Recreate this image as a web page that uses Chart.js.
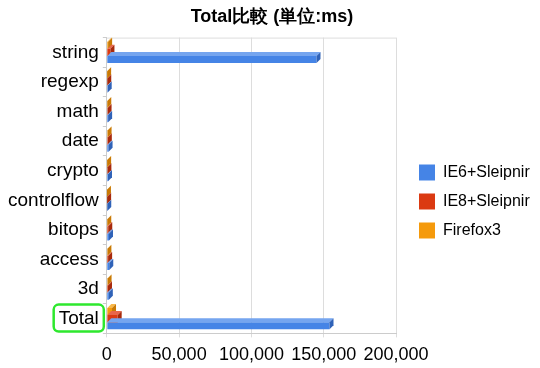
<!DOCTYPE html>
<html>
<head>
<meta charset="utf-8">
<script src="https://cdn.jsdelivr.net/npm/chart.js@4"></script>
<style>
  html, body { margin: 0; padding: 0; background: #fff; }
  #wrap { width: 540px; height: 368px; }
</style>
</head>
<body>
<div id="wrap"><canvas id="chart"></canvas></div>
<script>
const categories = ['string', 'regexp', 'math', 'date', 'crypto', 'controlflow', 'bitops', 'access', '3d', 'Total'];
const ie6Values = [145000, 600, 900, 1200, 800, 300, 1500, 1700, 1400, 154000];
const ie8Values = [2500, 300, 500, 700, 400, 200, 1000, 900, 800, 7500];
const firefoxValues = [900, 200, 300, 500, 200, 100, 300, 400, 500, 3600];
const xTicks = [0, 50000, 100000, 150000, 200000];

const FONT = 'Liberation Sans, Arial, sans-serif';

// simple pseudo-3D faces on each bar (top + right side)
const bars3d = {
  id: 'bars3d',
  afterDatasetsDraw(chart) {
    const ctx = chart.ctx;
    const d = 4;
    chart.data.datasets.forEach((ds, i) => {
      const meta = chart.getDatasetMeta(i);
      meta.data.forEach(bar => {
        const top = bar.y - bar.height / 2;
        const bottom = bar.y + bar.height / 2;
        ctx.save();
        ctx.fillStyle = ds.topColor;
        ctx.beginPath();
        ctx.moveTo(bar.base, top);
        ctx.lineTo(bar.base + d, top - d);
        ctx.lineTo(bar.x + d, top - d);
        ctx.lineTo(bar.x, top);
        ctx.closePath();
        ctx.fill();
        ctx.fillStyle = ds.sideColor;
        ctx.beginPath();
        ctx.moveTo(bar.x, top);
        ctx.lineTo(bar.x + d, top - d);
        ctx.lineTo(bar.x + d, bottom - d);
        ctx.lineTo(bar.x, bottom);
        ctx.closePath();
        ctx.fill();
        ctx.restore();
      });
    });
  }
};

// top edge of the plot frame
const frame = {
  id: 'frame',
  beforeDatasetsDraw(chart) {
    const a = chart.chartArea;
    const ctx = chart.ctx;
    ctx.save();
    ctx.strokeStyle = '#dddddd';
    ctx.lineWidth = 1;
    ctx.beginPath();
    ctx.moveTo(a.left, a.top + 0.5);
    ctx.lineTo(a.right, a.top + 0.5);
    ctx.stroke();
    ctx.restore();
  }
};

// legend: fixed width box and a small shift
const legendShift = {
  id: 'legendShift',
  beforeLayout(chart) {
    const lg = chart.legend;
    if (!lg || lg._shifted) return;
    const fit = lg.fit.bind(lg);
    lg.fit = function () { fit(); this.width = 144; };
    const draw = lg.draw.bind(lg);
    lg.draw = function () {
      const c = this.ctx;
      c.save();
      c.translate(10, 15);
      draw();
      c.restore();
    };
    lg._shifted = true;
  }
};

// green rounded box around the "Total" label
const totalBox = {
  id: 'totalBox',
  afterDraw(chart) {
    const y = chart.scales.y;
    const ctx = chart.ctx;
    const cy = y.getPixelForValue(categories.length - 1);
    ctx.save();
    ctx.font = '19px ' + FONT;
    const w = ctx.measureText('Total').width;
    const right = y.right - 3;
    const left = right - w - 10;
    ctx.strokeStyle = '#2ee82e';
    ctx.lineWidth = 2.5;
    ctx.beginPath();
    ctx.roundRect(left, cy - 14, right - left, 27, 5);
    ctx.stroke();
    ctx.restore();
  }
};

new Chart(document.getElementById('chart'), {
  type: 'bar',
  data: {
    labels: categories,
    datasets: [
      {
        label: 'Firefox3',
        data: firefoxValues,
        backgroundColor: '#f59a0c',
        topColor: '#f8b84a',
        sideColor: '#c97a05'
      },
      {
        label: 'IE8+Sleipnir',
        data: ie8Values,
        backgroundColor: '#db3a12',
        topColor: '#e8664a',
        sideColor: '#a82a0c'
      },
      {
        label: 'IE6+Sleipnir',
        data: ie6Values,
        backgroundColor: '#4584e6',
        topColor: '#75a5ef',
        sideColor: '#2f62b8'
      }
    ]
  },
  options: {
    indexAxis: 'y',
    responsive: true,
    maintainAspectRatio: false,
    animation: false,
    layout: { padding: { left: 4, right: 0, top: 0, bottom: -5 } },
    datasets: {
      bar: { categoryPercentage: 0.72, barPercentage: 1.0 }
    },
    plugins: {
      title: {
        display: true,
        text: 'Total比較 (単位:ms)',
        color: '#000',
        font: { family: FONT, size: 18, weight: 'bold' },
        padding: { top: 6, bottom: 10 }
      },
      legend: {
        position: 'right',
        reverse: true,
        labels: {
          color: '#000',
          font: { family: FONT, size: 16 },
          boxWidth: 16,
          boxHeight: 16,
          padding: 13
        }
      },
      tooltip: { enabled: false }
    },
    scales: {
      x: {
        min: 0,
        max: 200000,
        afterBuildTicks: axis => { axis.ticks = xTicks.map(v => ({ value: v })); },
        grid: { color: '#dddddd', tickLength: 4 },
        border: { color: '#cccccc' },
        ticks: { color: '#000', font: { family: FONT, size: 18 }, padding: 7 }
      },
      y: {
        grid: { drawOnChartArea: false, color: '#cccccc', tickLength: 4 },
        border: { color: '#cccccc' },
        ticks: { color: '#000', font: { family: FONT, size: 19 }, padding: 4 }
      }
    }
  },
  plugins: [bars3d, frame, legendShift, totalBox]
});
</script>
</body>
</html>
